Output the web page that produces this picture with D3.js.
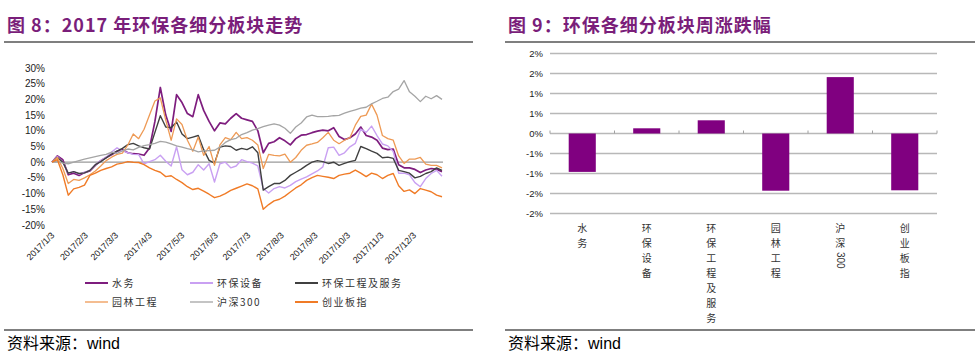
<!DOCTYPE html>
<html>
<head>
<meta charset="utf-8">
<script src="https://cdn.jsdelivr.net/npm/d3@7"></script>
<style>
  body { margin: 0; background: #fff; }
  svg { display: block; }
  text { font-family: "Liberation Sans", Arial, sans-serif; }
  .cjk { font-family: "Noto Sans CJK SC", sans-serif; }
</style>
</head>
<body>
<div id="vis"></div>
<script>
var width = 978;
var height = 358;

// ---- figure 8: line chart data (percent change since 2017/1/3) ----
var dates = ["2017-01-03","2017-01-08","2017-01-13","2017-01-18","2017-01-23","2017-01-28","2017-02-02",
  "2017-02-07","2017-02-12","2017-02-17","2017-02-22","2017-02-27","2017-03-04","2017-03-09","2017-03-14",
  "2017-03-19","2017-03-24","2017-03-29","2017-04-03","2017-04-08","2017-04-13","2017-04-18","2017-04-23",
  "2017-04-28","2017-05-03","2017-05-08","2017-05-13","2017-05-18","2017-05-23","2017-05-28","2017-06-02",
  "2017-06-07","2017-06-12","2017-06-17","2017-06-22","2017-06-27","2017-07-02","2017-07-07","2017-07-12",
  "2017-07-17","2017-07-22","2017-07-27","2017-08-01","2017-08-06","2017-08-11","2017-08-16","2017-08-21",
  "2017-08-26","2017-08-31","2017-09-05","2017-09-10","2017-09-15","2017-09-20","2017-09-25","2017-09-30",
  "2017-10-05","2017-10-10","2017-10-15","2017-10-20","2017-10-25","2017-10-30","2017-11-04","2017-11-09",
  "2017-11-14","2017-11-19","2017-11-24","2017-11-29","2017-12-04","2017-12-09","2017-12-14","2017-12-19",
  "2017-12-24","2017-12-29"];

var shuiwu = [0,2.0,0.8,-4.0,-3.5,-4.2,-3.3,-2.8,-1.0,0.5,1.5,2.4,3.5,4.0,3.0,2.7,2.6,2.2,4.5,13.0,
  23.8,15.0,9.8,21.5,19.0,15.5,14.5,21.5,16.5,13.0,10.0,12.5,12.2,14.0,15.5,14.0,13.5,13.0,10.0,3.0,
  6.0,6.5,7.8,6.8,5.5,7.5,8.6,8.8,9.4,9.9,10.2,10.0,11.0,8.2,7.2,7.8,9.0,11.2,8.5,8.0,
  7.0,4.5,4.0,4.2,-0.8,-1.8,-1.8,-2.3,-3.3,-2.5,-2.0,-2.2,-3.0];
var shebei = [0,1.8,0,-3.5,-3.0,-3.8,-3.2,-2.6,-0.8,0.5,1.6,3.2,4.6,3.6,3.0,2.5,2.4,-0.5,0.2,0.8,
  2.2,0.3,-1.2,4.9,-2.4,-4.0,-3.2,-0.8,-2.5,-0.5,-6.3,-0.5,0,-1.8,-1.2,0.8,0.2,-0.3,-1.2,-8.4,
  -9.8,-8.4,-7.8,-8.2,-7.4,-6.2,-5.4,-4.7,-3.7,-2.8,-1.5,4.6,4.8,2.2,3.0,4.9,6.0,10.5,9.5,11.5,
  8.5,5.8,5.2,3.4,-3.5,-3.5,-4.0,-6.5,-7.8,-5.2,-3.6,-2.6,-4.5];
var gongcheng = [0,1.5,0,-3.5,-3.0,-3.6,-3.4,-2.6,-0.8,0.2,1.4,2.6,3.5,4.4,5.6,6.0,5.2,4.6,4.2,9.5,
  14.8,11.2,11.0,12.8,9.0,7.5,8.0,8.5,4.0,0.6,-0.3,4.8,5.2,5.0,3.8,4.4,4.0,4.9,3.0,-8.9,
  -7.8,-6.8,-6.8,-5.8,-4.2,-3.2,-2.2,-1.0,0.0,0.5,0.2,-0.4,0.0,-1.0,-0.4,0.2,0.6,5.0,4.3,3.5,
  2.8,1.4,1.6,1.2,-2.6,-3.0,-3.5,-5.0,-4.5,-3.6,-3.0,-1.8,-2.6];
var yuanlin = [0,1.5,-2.0,-6.8,-5.5,-5.8,-5.0,-4.0,-2.8,-1.2,0.5,1.6,2.5,2.9,5.5,9.0,7.5,10.5,15.0,19.5,
  20.5,13.4,7.0,13.8,12.0,7.0,3.5,8.0,2.2,5.0,-1.0,5.5,7.8,7.2,9.5,7.5,7.8,7.0,5.5,-2.0,
  2.5,2.2,2.0,2.6,0.0,1.5,3.8,5.4,5.8,6.3,7.8,9.5,7.0,5.9,7.0,7.8,11.8,14.6,15.0,18.5,
  15.0,8.5,7.5,7.0,2.0,-0.4,1.0,1.0,1.5,-0.6,-1.0,-1.0,-1.8];
var hs300 = [0,0.3,-0.3,-0.5,0,0.5,1.0,1.4,1.8,2.2,2.5,3.2,2.8,3.6,4.2,3.9,4.7,5.3,5.6,6.0,
  6.6,6.4,5.8,5.2,4.8,4.3,3.9,3.3,3.6,3.7,3.8,4.8,6.3,7.2,7.6,8.8,9.4,10.2,10.7,11.3,
  11.8,12.2,11.8,10.8,9.2,11.2,12.5,14.4,15.0,14.5,14.5,14.6,14.8,14.9,15.6,16.2,16.7,17.2,17.5,18.6,
  19.4,20.3,20.7,22.5,23.3,26.0,22.4,21.0,19.3,21.0,20.2,21.2,20.0];
var chuangye = [0,0.8,-4.0,-10.5,-8.5,-8.0,-7.3,-4.2,-3.5,-2.6,-2.0,-1.5,-0.6,-0.3,0.2,0,-0.1,-0.8,-1.8,-2.6,
  -3.2,-4.6,-4.3,-5.5,-6.5,-7.8,-8.7,-8.3,-9.2,-10.2,-11.3,-10.8,-10.0,-9.0,-8.3,-7.6,-6.9,-7.5,-8.5,-15.0,
  -13.5,-12.3,-11.8,-10.8,-9.5,-8.2,-7.2,-5.8,-4.9,-4.2,-4.5,-4.8,-5.2,-4.2,-3.8,-3.5,-2.5,-3.5,-4.6,-3.5,
  -4.0,-5.2,-4.2,-3.6,-7.5,-9.3,-8.8,-10.0,-8.4,-8.9,-9.4,-10.5,-11.0];

var seriesNames = ["水务", "环保设备", "环保工程及服务", "园林工程", "沪深300", "创业板指"];
var seriesValues = [shuiwu, shebei, gongcheng, yuanlin, hs300, chuangye];
var seriesColors = ["#7E1D7E", "#C9A0F2", "#404040", "#EE9A55", "#A5A5A5", "#F07B26"];
var seriesWidths = [1.7, 1.4, 1.4, 1.3, 1.3, 1.4];
var xTickDates = ["2017-01-03","2017-02-03","2017-03-03","2017-04-03","2017-05-03","2017-06-03",
  "2017-07-03","2017-08-03","2017-09-03","2017-10-03","2017-11-03","2017-12-03"];
var yTicksLine = [30, 25, 20, 15, 10, 5, 0, -5, -10, -15, -20];

// ---- figure 9: weekly change ----
var barCats = ["水务", "环保设备", "环保工程及服务", "园林工程", "沪深300", "创业板指"];
var barValues = [-0.96, 0.13, 0.33, -1.43, 1.41, -1.42];
var barTicks = [2, 1.5, 1, 0.5, 0, -0.5, -1, -1.5, -2];
var barTickLabels = ["2%", "2%", "1%", "1%", "0%", "-1%", "-1%", "-2%", "-2%"];

var TITLE_COLOR = "#7A1E7A";
var parseDate = d3.timeParse("%Y-%m-%d");

var svg = d3.select("#vis").append("svg").attr("width", width).attr("height", height);

// titles, rules, source
function frame(x0, x1, title) {
  svg.append("text").attr("class", "cjk").attr("x", x0 + 3).attr("y", 32)
    .attr("fill", TITLE_COLOR).attr("font-size", 18).attr("font-weight", "bold")
    .attr("letter-spacing", 1).text(title);
  svg.append("line").attr("x1", x0).attr("x2", x1).attr("y1", 42).attr("y2", 42)
    .attr("stroke", "#000").attr("stroke-width", 1.2);
  svg.append("line").attr("x1", x0).attr("x2", x1).attr("y1", 330).attr("y2", 330)
    .attr("stroke", "#000").attr("stroke-width", 1.2);
  var src = svg.append("text").attr("x", x0 + 3).attr("y", 349).attr("font-size", 16).attr("fill", "#000");
  src.append("tspan").attr("class", "cjk").text("资料来源：");
  src.append("tspan").text("wind");
}
frame(4, 473, "图 8：2017 年环保各细分板块走势");
frame(505, 975, "图 9：环保各细分板块周涨跌幅");

// ---------- line chart ----------
var xL = d3.scaleTime().domain([parseDate(dates[0]), parseDate(dates[dates.length - 1])]).range([52, 442]);
var yL = d3.scaleLinear().domain([-20, 30]).range([225, 68]);

var gL = svg.append("g");
gL.selectAll(".ytl").data(yTicksLine).enter().append("text")
  .attr("x", 45).attr("y", function (d) { return yL(d); }).attr("dy", "0.35em")
  .attr("text-anchor", "end").attr("font-size", 10).attr("fill", "#222")
  .text(function (d) { return d + "%"; });

gL.selectAll(".xtl").data(xTickDates).enter().append("text")
  .attr("text-anchor", "end").attr("font-size", 9).attr("fill", "#222")
  .attr("transform", function (d) {
    return "translate(" + (xL(parseDate(d)) + 3) + ",236) rotate(-45)";
  })
  .text(function (d) {
    var t = parseDate(d);
    return t.getFullYear() + "/" + (t.getMonth() + 1) + "/" + t.getDate();
  });

gL.append("line").attr("x1", xL.range()[0]).attr("x2", xL.range()[1] + 1)
  .attr("y1", yL(0)).attr("y2", yL(0)).attr("stroke", "#9A9A9A").attr("stroke-width", 1.2);

var line = d3.line()
  .x(function (d, i) { return xL(parseDate(dates[i])); })
  .y(function (d) { return yL(d); });

seriesValues.forEach(function (vals, i) {
  gL.append("path").datum(vals).attr("d", line).attr("fill", "none")
    .attr("stroke", seriesColors[i]).attr("stroke-width", seriesWidths[i])
    .attr("stroke-linejoin", "round");
});

// legend
var legX = [85, 190, 295];
var legY = [283, 302];
seriesNames.forEach(function (name, i) {
  var lx = legX[i % 3], ly = legY[Math.floor(i / 3)];
  gL.append("line").attr("x1", lx).attr("x2", lx + 23).attr("y1", ly).attr("y2", ly)
    .attr("stroke", seriesColors[i]).attr("stroke-width", i == 3 || i == 4 ? 1.3 : 2);
  gL.append("text").attr("class", "cjk").attr("x", lx + 27).attr("y", ly).attr("dy", "0.35em")
    .attr("font-size", 10).attr("letter-spacing", 1.5).attr("fill", "#333").text(name);
});

// ---------- bar chart ----------
var xB = d3.scaleBand().domain(barCats).range([550, 937]).paddingInner(0.58).paddingOuter(0.29);
var yB = d3.scaleLinear().domain([-2, 2]).range([213.5, 53.5]);
var gB = svg.append("g");

gB.selectAll(".grid").data(barTicks).enter().append("line")
  .attr("x1", 550).attr("x2", 937)
  .attr("y1", function (d) { return yB(d); }).attr("y2", function (d) { return yB(d); })
  .attr("stroke", "#B8B8B8").attr("stroke-width", 1.4);

gB.selectAll(".ytb").data(barTicks).enter().append("text")
  .attr("x", 543).attr("y", function (d) { return yB(d); }).attr("dy", "0.35em")
  .attr("text-anchor", "end").attr("font-size", 9.5).attr("fill", "#222")
  .text(function (d, i) { return barTickLabels[i]; });

// category tick marks on the zero line
var step = xB.step();
d3.range(barCats.length + 1).forEach(function (i) {
  var tx = 550 + i * step;
  gB.append("line").attr("x1", tx).attr("x2", tx).attr("y1", yB(0) - 3).attr("y2", yB(0))
    .attr("stroke", "#A0A0A0").attr("stroke-width", 1);
});

gB.selectAll(".bar").data(barValues).enter().append("rect")
  .attr("x", function (d, i) { return xB(barCats[i]); })
  .attr("y", function (d) { return yB(Math.max(0, d)); })
  .attr("width", xB.bandwidth())
  .attr("height", function (d) { return Math.abs(yB(d) - yB(0)); })
  .attr("fill", "#800080");

// vertical stacked category labels
barCats.forEach(function (cat) {
  var cx = xB(cat) + xB.bandwidth() / 2;
  var parts = cat.match(/[0-9]+|./g);
  parts.forEach(function (p, j) {
    var cy = 228 + j * 15;
    if (/^[0-9]+$/.test(p)) {
      gB.append("text").attr("font-size", 10).attr("fill", "#333")
        .attr("transform", "translate(" + (cx - 3) + "," + (cy - 6) + ") rotate(90)")
        .text(p);
    } else {
      gB.append("text").attr("class", "cjk").attr("x", cx).attr("y", cy).attr("dy", "0.35em")
        .attr("text-anchor", "middle").attr("font-size", 10).attr("fill", "#333").text(p);
    }
  });
});
</script>
</body>
</html>
